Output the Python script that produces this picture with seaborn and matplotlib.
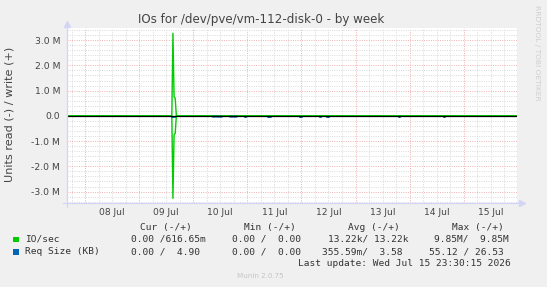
import numpy as np
import pandas as pd
import matplotlib
matplotlib.use("Agg")
import matplotlib.pyplot as plt
import matplotlib.transforms as mtransforms
from matplotlib.patches import Rectangle
import seaborn as sns

# ---------------- data ----------------
# time axis: hours since 08 Jul 00:00
t_start_h = -8.0
t_end_h = 191.5          # Wed Jul 15 23:30
day_labels = ["08 Jul", "09 Jul", "10 Jul", "11 Jul", "12 Jul", "13 Jul", "14 Jul", "15 Jul"]

io_time_h = [-8.0, 38.5, 39.0, 39.5, 40.0, 40.5, 191.5]
io_write = [0, 0, 3270000, 750000, 700000, 0, 0]
io_read = [0, 0, 3270000, 750000, 700000, 0, 0]

# Req Size (KB), read side; NaN = no value (gaps)
req_time_h = [38.5, 40.0, np.nan, 56.6, 57.8, np.nan, 58.4, 60.8, np.nan, 64.3, 67.3, np.nan,
              71.0, 71.6, np.nan, 81.2, 82.5, np.nan, 95.5, 96.1, np.nan, 104.3, 104.9, np.nan,
              107.5, 108.1, np.nan, 139.1, 139.7, np.nan, 159.1, 159.7]
req_read_kb = [4.9, 3.6, np.nan, 55.12, 40.0, np.nan, 12.0, 8.0, np.nan, 20.0, 15.0, np.nan,
               6.0, 5.0, np.nan, 9.0, 7.0, np.nan, 4.0, 4.0, np.nan, 5.0, 5.0, np.nan,
               6.0, 6.0, np.nan, 4.0, 4.0, np.nan, 5.0, 5.0]

y_ticks = [-3e6, -2e6, -1e6, 0, 1e6, 2e6, 3e6]
y_tick_labels = ["-3.0 M", "-2.0 M", "-1.0 M", "0.0", "1.0 M", "2.0 M", "3.0 M"]

title = "IOs for /dev/pve/vm-112-disk-0 - by week"
ylabel = "Units read (-) / write (+)"
legend_header = ["Cur (-/+)", "Min (-/+)", "Avg (-/+)", "Max (-/+)"]
legend_names = ["IO/sec", "Req Size (KB)"]
legend_colors = ["#00CC00", "#0066B3"]
legend_values = [["0.00 /616.65m", "0.00 /  0.00", "13.22k/ 13.22k", "9.85M/  9.85M"],
                 ["0.00 /  4.90", "0.00 /  0.00", "355.59m/  3.58", "55.12 / 26.53"]]
last_update = "Last update: Wed Jul 15 23:30:15 2026"
munin_ver = "Munin 2.0.75"
watermark = "RRDTOOL / TOBI OETIKER"

# ---------------- figure ----------------
sns.set_style("white")
plt.rcParams["font.family"] = ["DejaVu Sans"]

W, H = 547, 287
fig = plt.figure(figsize=(W / 100, H / 100), dpi=100, facecolor="#F0F0F0")
L, R, T, B = 67, 516.7, 28, 203.3
ax = fig.add_axes([L / W, 1 - B / H, (R - L) / W, (B - T) / H])
ax.set_facecolor("white")
for s in ax.spines.values():
    s.set_visible(False)

ax.set_xlim(t_start_h, t_end_h)
ax.set_ylim(-3.465e6, 3.48e6)

# grid
minor_c, major_c = "#DCDCDC", "#F0B4B4"
dots = (0, (1, 1.3))
for h in np.arange(-6, t_end_h, 6):
    is_mid = (h % 24) == 0
    ax.axvline(h, color=major_c if is_mid else minor_c, lw=0.72, ls=dots, zorder=1)
for v in np.arange(-3.4e6, 3.5e6, 0.2e6):
    is_major = abs(v / 1e6 - round(v / 1e6)) < 1e-6
    if abs(v) < 1:
        continue
    ax.axhline(v, color=major_c if is_major else minor_c, lw=0.72, ls=dots, zorder=1)

# IO/sec (write +, read -)
df_io = pd.DataFrame({"t": io_time_h * 2,
                      "v": list(io_write) + [-x for x in io_read],
                      "side": ["write"] * len(io_time_h) + ["read"] * len(io_time_h)})
sns.lineplot(data=df_io, x="t", y="v", units="side", estimator=None, color="#00CC00",
             lw=1.0, ax=ax, zorder=3, legend=False)

# Req size (read side, tiny values)
df_req = pd.DataFrame({"t": req_time_h, "v": [-x for x in req_read_kb]})
df_req["seg"] = df_req["t"].isna().cumsum()
df_req = df_req.dropna()
n_before = len(ax.lines)
sns.lineplot(data=df_req, x="t", y="v", units="seg", estimator=None, color="#0066B3",
             lw=1.4, ax=ax, zorder=4, legend=False)
off = mtransforms.ScaledTranslation(0, -0.8 / 100, fig.dpi_scale_trans)
for ln in ax.lines[n_before:]:
    ln.set_transform(ax.transData + off)

ax.axhline(0, color="black", lw=0.9, zorder=5)

# axes lines with arrows (rrdtool style)
axc = "#D4D4F6"
px_x = 1 / (R - L)
px_y = 1 / (B - T)
ax.plot([0, 0], [-4 * px_y, 1 + 4 * px_y], color=axc, lw=0.9, transform=ax.transAxes, clip_on=False, zorder=6)
ax.plot([-4 * px_x, 1 + 4 * px_x], [0, 0], color=axc, lw=0.9, transform=ax.transAxes, clip_on=False, zorder=6)
ax.plot([0], [1 + 4 * px_y], marker="^", ms=4, color=axc, mec=axc, transform=ax.transAxes, clip_on=False)
ax.plot([1 + 5 * px_x], [0], marker=">", ms=4, color=axc, mec=axc, transform=ax.transAxes, clip_on=False)

# ticks
noons = [12 + 24 * i for i in range(len(day_labels))]
ax.set_xticks(noons, day_labels)
ax.set_yticks(y_ticks, y_tick_labels)
ax.tick_params(axis="x", length=0, pad=3.4, labelsize=6.6, labelcolor="#444444")
ax.tick_params(axis="y", length=0, pad=5.0, labelsize=6.7, labelcolor="#444444")
ax.set_xlabel("")
ax.set_ylabel("")

# texts
fig.text(261 / W, 1 - 19.5 / H, title, ha="center", va="center", fontsize=8.6, color="#444444")
fig.text(10 / W, 1 - 114.5 / H, ylabel, ha="center", va="center", rotation=90, fontsize=8.1, color="#444444")
fig.text(537 / W, 1 - 53 / H, watermark, ha="center", va="center", rotation=270, fontsize=5.4, color="#CFCFCF")

mono = dict(family="DejaVu Sans Mono", fontsize=6.8, color="#333333", va="center", ha="left")
hdr_x = [140, 244, 348.3, 451.7]
for x, s in zip(hdr_x, legend_header):
    fig.text(x / W, 1 - 227.3 / H, s, **mono)
row_y = [239.3, 252]
col_x = [[131, 232.3, 327.7, 434], [131, 232.3, 321.7, 429]]
for name, col, vals, y, xs in zip(legend_names, legend_colors, legend_values, row_y, col_x):
    fig.add_artist(Rectangle(((13.3) / W, 1 - (y + 2.6) / H), 5.2 / W, 5.2 / H,
                             transform=fig.transFigure, facecolor=col, edgecolor="none"))
    fig.text(25 / W, 1 - y / H, name, **mono)
    for x, s in zip(xs, vals):
        fig.text(x / W, 1 - y / H, s, **mono)
fig.text(297.7 / W, 1 - 263.3 / H, last_update, **mono)
fig.text(260.7 / W, 1 - 276 / H, munin_ver, ha="center", va="center", fontsize=5.1, color="#C4C4C4")

fig.savefig("out.png", dpi=100, facecolor=fig.get_facecolor())
